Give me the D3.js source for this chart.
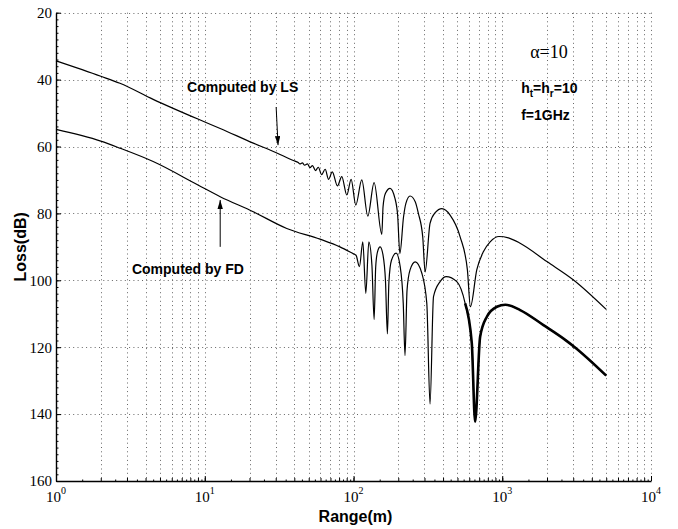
<!DOCTYPE html>
<html>
<head>
<meta charset="utf-8">
<script src="https://cdn.jsdelivr.net/npm/d3@7/dist/d3.min.js"></script>
<style>
  body { margin: 0; background: #fff; }
  svg { display: block; }
</style>
</head>
<body>
<div id="chart"></div>
<script>
// ---- values ----
// upper curve, "Computed by LS"
var lsRange = [1, 2, 2.69, 4.5, 9, 12.7, 21.2, 30, 39.4, 42.5,
  43.6, 45.3, 47, 49, 51, 53, 55.5, 58, 61, 64.5, 68, 72, 78, 83.4,
  90.2, 96.4, 103.6, 113.7, 124.8, 137.6, 155,
  158, 164, 176, 190, 198, 205,
  217, 225, 240, 260, 273, 292, 303,
  327, 354, 393, 446, 521, 583, 611,
  674, 748, 829, 950, 1100, 1319, 1995, 3013, 5000];
var lsLoss = [34.4, 39.0, 41.1, 45.9, 51.8, 54.6, 59.0, 61.8, 64.2, 64.8,
  65.2, 64.9, 65.6, 65.2, 66.3, 65.7, 67.2, 66.2, 68.4, 66.8, 69.8, 67.6, 71.8, 69.0,
  74.5, 69.8, 77.5, 70.0, 80.8, 70.8, 86.3,
  78.0, 74.0, 72.5, 75.5, 80.5, 92.0,
  81.0, 77.0, 74.8, 76.5, 80.0, 87.0, 97.5,
  83.0, 79.8, 78.6, 80.5, 87.0, 96.9, 107.9,
  96.9, 91.4, 88.5, 86.9, 87.3, 88.9, 94.4, 99.9, 108.7];

// lower curve, "Computed by FD"
var fdRange = [1, 2, 2.69, 4.5, 9, 12.7, 21.2, 35.6, 59.6, 81, 100, 104,
  109.6, 115.5, 121, 126.8, 133, 137.6,
  141, 145, 151, 158, 164, 169,
  173, 180, 193.5, 206, 216, 222,
  229, 240, 260, 288, 311, 327,
  345, 382, 420, 495, 563, 624, 657,
  710, 788, 920, 1050, 1319, 1892, 2649, 3013, 5000];
var fdLoss = [54.9, 58.4, 60.5, 64.5, 71.5, 75.0, 79.5, 84.5, 87.7, 90.0, 92.1, 92.5,
  95.9, 88.5, 103.9, 88.5, 95.5, 111.7,
  96.0, 91.5, 90.0, 92.5, 100.0, 116.0,
  100.5, 94.0, 91.9, 95.9, 106.9, 122.5,
  103.0, 96.9, 94.5, 97.9, 106.9, 137.0,
  104.9, 100.4, 98.9, 100.4, 106.9, 118.8, 142.3,
  116.9, 110.9, 107.9, 107.3, 108.9, 113.4, 117.8, 119.7, 128.5];

var yTicks = [20, 40, 60, 80, 100, 120, 140, 160];
var xDecades = [1, 10, 100, 1000, 10000];
var xExponents = ["0", "1", "2", "3", "4"];

// ---- layout ----
var width = 678, height = 529;
var plot = {left: 56, right: 651, top: 12.7, bottom: 481};

var x = d3.scaleLog().domain([1, 1e4]).range([plot.left, plot.right]);
var y = d3.scaleLinear().domain([20, 160]).range([plot.top, plot.bottom]);

var svg = d3.select("#chart").append("svg")
    .attr("width", width)
    .attr("height", height);

// minor log positions 1..9 per decade
var minorX = [];
xDecades.slice(0, 4).forEach(function(d) {
  for (var m = 1; m <= 9; m++) minorX.push(d * m);
});
minorX.push(1e4);
var halfX = [];
xDecades.slice(0, 4).forEach(function(d) {
  for (var m = 1; m <= 9; m++) halfX.push(d * (m + 0.5));
});
var minorY = d3.range(20, 161, 2);

// ---- dotted grid ----
var grid = svg.append("g").attr("class", "grid")
    .attr("stroke", "#666")
    .attr("stroke-width", 1)
    .attr("stroke-dasharray", "1,3.3");

grid.selectAll("line.v")
  .data(minorX.filter(function(d) { return d > 1; }))
  .enter().append("line")
    .attr("class", "v")
    .attr("x1", function(d) { return Math.round(x(d)) + 0.5; })
    .attr("x2", function(d) { return Math.round(x(d)) + 0.5; })
    .attr("y1", plot.top)
    .attr("y2", plot.bottom);

grid.selectAll("line.h")
  .data(yTicks.filter(function(d) { return d < 160; }))
  .enter().append("line")
    .attr("class", "h")
    .attr("x1", plot.left)
    .attr("x2", plot.right)
    .attr("y1", function(d) { return Math.round(y(d)) + 0.5; })
    .attr("y2", function(d) { return Math.round(y(d)) + 0.5; });

// ---- axes (ticks point inward) ----
var yAxisMinor = d3.axisLeft(y).tickValues(minorY).tickSize(-2.5).tickSizeOuter(0).tickFormat("");
var yAxisMajor = d3.axisLeft(y).tickValues(yTicks).tickSize(-5).tickSizeOuter(0).tickPadding(4);

var gy = svg.append("g").attr("transform", "translate(" + plot.left + ",0)");
gy.call(yAxisMinor);
var gy2 = svg.append("g").attr("transform", "translate(" + plot.left + ",0)");
gy2.call(yAxisMajor);
gy2.select(".domain").remove();
gy2.selectAll("text")
    .attr("font-family", "'Liberation Serif', 'Times New Roman', serif")
    .attr("font-size", 15)
    .attr("fill", "#000");

var xAxisMinor = d3.axisBottom(x).tickValues(minorX).tickSize(-3).tickSizeOuter(0).tickFormat("");
var xAxisHalf = d3.axisBottom(x).tickValues(halfX).tickSize(-1.5).tickSizeOuter(0).tickFormat("");
var xAxisMajor = d3.axisBottom(x).tickValues(xDecades).tickSize(-5).tickSizeOuter(0).tickFormat("");

var gx = svg.append("g").attr("transform", "translate(0," + plot.bottom + ")");
gx.call(xAxisMinor);
var gxh = svg.append("g").attr("transform", "translate(0," + plot.bottom + ")");
gxh.call(xAxisHalf);
gxh.select(".domain").remove();
var gx2 = svg.append("g").attr("transform", "translate(0," + plot.bottom + ")");
gx2.call(xAxisMajor);
gx2.select(".domain").remove();

svg.selectAll(".domain").attr("stroke", "#000").attr("stroke-width", 1.4);
svg.selectAll(".tick line").attr("stroke", "#000");

// decade labels 10^k
var xLab = svg.append("g")
    .attr("font-family", "'Liberation Serif', 'Times New Roman', serif")
    .attr("fill", "#000");
xDecades.forEach(function(d, i) {
  var t = xLab.append("text")
      .attr("x", x(d))
      .attr("y", plot.bottom + 21)
      .attr("text-anchor", "middle")
      .attr("font-size", 15);
  t.append("tspan").text("10");
  t.append("tspan")
      .attr("font-size", 10)
      .attr("dy", -8)
      .text(xExponents[i]);
});

// axis titles
svg.append("text")
    .attr("x", (plot.left + plot.right) / 2 + 2)
    .attr("y", 522)
    .attr("text-anchor", "middle")
    .attr("font-family", "'Liberation Sans', Arial, sans-serif")
    .attr("font-weight", "bold")
    .attr("font-size", 16)
    .text("Range(m)");

svg.append("text")
    .attr("transform", "translate(26," + (plot.top + plot.bottom) / 2 + ") rotate(-90)")
    .attr("text-anchor", "middle")
    .attr("font-family", "'Liberation Sans', Arial, sans-serif")
    .attr("font-weight", "bold")
    .attr("font-size", 16)
    .text("Loss(dB)");

// ---- curves ----
var line = d3.line()
    .x(function(d) { return x(d[0]); })
    .y(function(d) { return y(d[1]); })
    .curve(d3.curveMonotoneX);

var lsData = d3.zip(lsRange, lsLoss);
var fdData = d3.zip(fdRange, fdLoss);

svg.append("path")
    .datum(lsData)
    .attr("fill", "none")
    .attr("stroke", "#000")
    .attr("stroke-width", 1.2)
    .attr("d", line);

svg.append("path")
    .datum(fdData)
    .attr("fill", "none")
    .attr("stroke", "#000")
    .attr("stroke-width", 1.2)
    .attr("d", line);

// the far part of the FD curve is drawn heavier in the figure
svg.append("path")
    .datum(fdData.filter(function(d) { return d[0] >= 563; }))
    .attr("fill", "none")
    .attr("stroke", "#000")
    .attr("stroke-width", 2.6)
    .attr("d", line);

// ---- annotations ----
svg.append("defs").append("marker")
    .attr("id", "head")
    .attr("viewBox", "0 0 10 6")
    .attr("refX", 10)
    .attr("refY", 3)
    .attr("markerWidth", 9)
    .attr("markerHeight", 5.4)
    .attr("orient", "auto")
  .append("path")
    .attr("d", "M0,0 L10,3 L0,6 z")
    .attr("fill", "#000");

function arrow(from, to) {
  svg.append("line")
      .attr("x1", x(from[0])).attr("y1", y(from[1]))
      .attr("x2", x(to[0])).attr("y2", y(to[1]))
      .attr("stroke", "#000")
      .attr("stroke-width", 1)
      .attr("marker-end", "url(#head)");
}
arrow([30.2, 48.2], [31.1, 59.6]);
arrow([12.7, 90.0], [12.7, 76.0]);

var bold = "'Liberation Sans', Arial, sans-serif";
function label(pos, txt, size) {
  return svg.append("text")
      .attr("x", x(pos[0]))
      .attr("y", y(pos[1]))
      .attr("font-family", bold)
      .attr("font-weight", "bold")
      .attr("font-size", size)
      .text(txt);
}
label([7.6, 43.7], "Computed by LS", 14);
label([3.24, 98.2], "Computed by FD", 14);

var hl = svg.append("text")
    .attr("x", x(1340))
    .attr("y", y(44.0))
    .attr("font-family", bold)
    .attr("font-weight", "bold")
    .attr("font-size", 14);
hl.append("tspan").text("h");
hl.append("tspan").attr("font-size", 10).attr("dy", 4).text("t");
hl.append("tspan").attr("dy", -4).text("=h");
hl.append("tspan").attr("font-size", 10).attr("dy", 4).text("r");
hl.append("tspan").attr("dy", -4).text("=10");

label([1340, 52.1], "f=1GHz", 14);

svg.append("text")
    .attr("x", x(1541))
    .attr("y", y(33.5))
    .attr("font-family", "'Liberation Serif', 'Times New Roman', serif")
    .attr("font-size", 18)
    .text("\u03b1=10");
</script>
</body>
</html>
